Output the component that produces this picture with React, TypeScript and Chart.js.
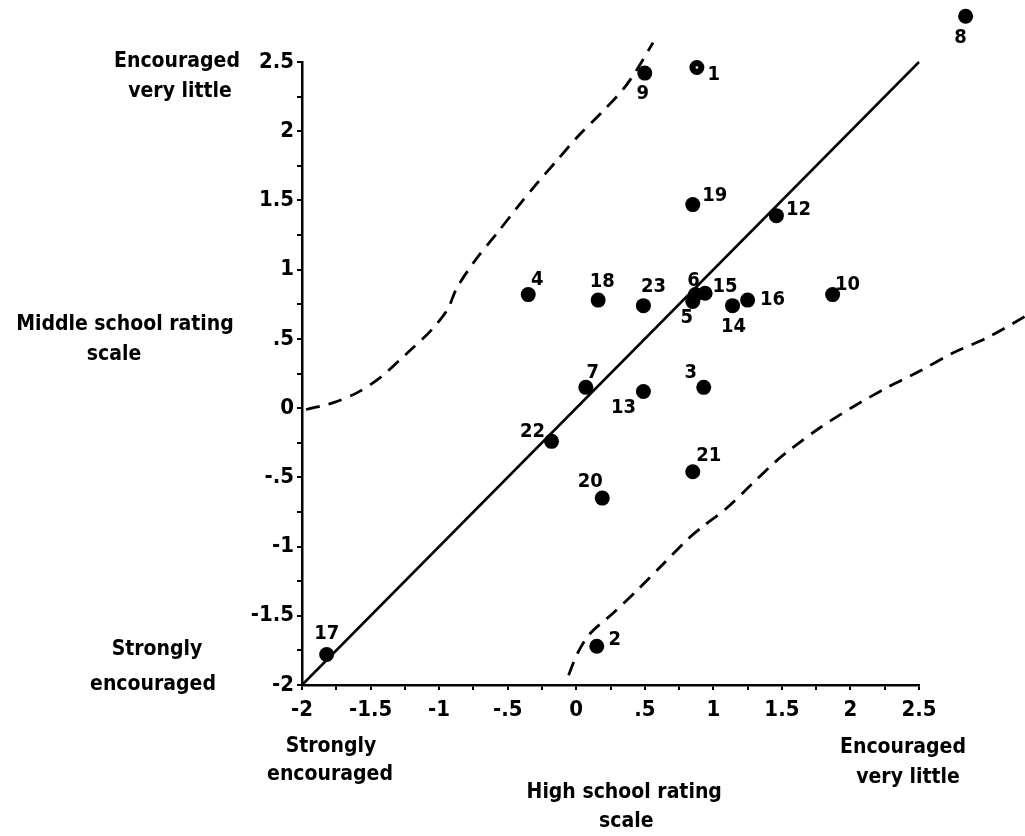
import React, { useEffect, useRef } from "react";
import { Chart, registerables } from "chart.js";

Chart.register(...registerables);

// ---- data ----
const studentIds = ["1", "2", "3", "4", "5", "6", "7", "8", "9", "10", "12", "13", "14", "15", "16", "17", "18", "19", "20", "21", "22", "23"];
const highSchoolRating = [0.88, 0.15, 0.93, -0.35, 0.85, 0.87, 0.07, 2.84, 0.5, 1.87, 1.46, 0.49, 1.14, 0.94, 1.25, -1.82, 0.16, 0.85, 0.19, 0.85, -0.18, 0.49];
const middleSchoolRating = [2.46, -1.72, 0.15, 0.82, 0.77, 0.82, 0.15, 2.83, 2.42, 0.82, 1.39, 0.12, 0.74, 0.83, 0.78, -1.78, 0.78, 1.47, -0.65, -0.46, -0.24, 0.74];

const identityX = [-2, 2.5];
const identityY = [-2, 2.5];

const upperBandX = [-1.97, -1.77, -1.6, -1.43, -1.23, -1.06, -0.94, -0.87, -0.72, -0.58, -0.43, -0.28, -0.14, 0.01, 0.18, 0.34, 0.44, 0.56];
const upperBandY = [-0.01, 0.04, 0.11, 0.22, 0.4, 0.56, 0.71, 0.87, 1.09, 1.26, 1.45, 1.63, 1.79, 1.96, 2.13, 2.3, 2.44, 2.64];

// listed from the right end (outside the axis range) back to the bottom start
const lowerBandX = [3.27, 3.0, 2.75, 2.51, 2.27, 2.02, 1.78, 1.56, 1.45, 1.29, 1.1, 0.93, 0.81, 0.64, 0.44, 0.27, 0.1, 0.01, -0.06];
const lowerBandY = [0.66, 0.51, 0.4, 0.27, 0.15, 0.01, -0.14, -0.3, -0.39, -0.54, -0.72, -0.85, -0.95, -1.12, -1.32, -1.48, -1.63, -1.77, -1.94];

const axisMin = -2;
const axisMax = 2.5;
const minorStep = 0.25;

const yAxisTitle = ["Middle school rating", "scale"];
const xAxisTitle = ["High school rating", "scale"];
const lowEndLabel = ["Strongly", "encouraged"];
const highEndLabel = ["Encouraged", "very little"];

// ---- styles (label offsets in px relative to each point) ----
const labelOffsets: [number, number][] = [
  [17, 7], [18, -6], [-13, -15], [9, -15], [-6, 16], [-2, -14], [7, -15], [-5, 21], [-2, 21], [15, -10],
  [22, -6], [-20, 16], [1, 21], [20, -6], [25, 0], [0, -21], [4, -18], [22, -9], [-12, -16], [16, -16],
  [-19, -10], [10, -19],
];

const FONT = '"DejaVu Sans Condensed", "Liberation Sans Narrow", "DejaVu Sans", sans-serif';

const fmtTick = (v: number) => {
  if (Math.abs(v * 2 - Math.round(v * 2)) > 1e-6) return "";
  if (Math.abs(v) < 1e-9) return "0";
  return String(v).replace(/^(-?)0\./, "$1.");
};

const toPoints = (xs: number[], ys: number[]) => xs.map((x, i) => ({ x, y: ys[i] }));

export default function App() {
  const ref = useRef<HTMLCanvasElement | null>(null);

  useEffect(() => {
    if (!ref.current) return;

    const textPlugin = {
      id: "annotTexts",
      afterDatasetsDraw(chart: any) {
        const ctx = chart.ctx;
        const xs = chart.scales.x;
        const ys = chart.scales.y;
        const area = chart.chartArea;
        const meta = chart.getDatasetMeta(3);
        // points that lie beyond the axis box (Chart.js skips them)
        meta.data.forEach((el: any) => {
          const r = 8;
          if (el.x < area.left - r || el.x > area.right + r || el.y < area.top - r || el.y > area.bottom + r) {
            el.draw(ctx);
          }
        });
        ctx.save();
        ctx.fillStyle = "#000";
        ctx.textAlign = "center";
        ctx.textBaseline = "middle";
        // point labels
        ctx.font = `bold 20px ${FONT}`;
        meta.data.forEach((el: any, i: number) => {
          const [dx, dy] = labelOffsets[i];
          ctx.fillText(studentIds[i], el.x + dx, el.y + dy);
        });
        // axis texts
        ctx.font = `bold 21px ${FONT}`;
        const left = area.left;
        const bottom = area.bottom;
        const yTop = ys.getPixelForValue(axisMax);
        const yMid = ys.getPixelForValue(0.6);
        const yLow = ys.getPixelForValue(axisMin);
        ctx.fillText(highEndLabel[0], left - 125, yTop);
        ctx.fillText(highEndLabel[1], left - 122, yTop + 30);
        ctx.fillText(yAxisTitle[0], left - 177, yMid);
        ctx.fillText(yAxisTitle[1], left - 188, yMid + 30);
        ctx.fillText(lowEndLabel[0], left - 145, yLow - 35);
        ctx.fillText(lowEndLabel[1], left - 149, yLow);
        const xLow = xs.getPixelForValue(axisMin);
        const xMid = xs.getPixelForValue(0.35);
        const xHigh = xs.getPixelForValue(axisMax);
        ctx.fillText(lowEndLabel[0], xLow + 29, bottom + 62);
        ctx.fillText(lowEndLabel[1], xLow + 28, bottom + 90);
        ctx.fillText(xAxisTitle[0], xMid, bottom + 108);
        ctx.fillText(xAxisTitle[1], xMid + 2, bottom + 137);
        ctx.fillText(highEndLabel[0], xHigh - 16, bottom + 63);
        ctx.fillText(highEndLabel[1], xHigh - 11, bottom + 93);
        ctx.restore();
      },
    };

    const chart = new Chart(ref.current, {
      type: "scatter",
      data: {
        datasets: [
          {
            type: "line",
            data: toPoints(identityX, identityY),
            borderColor: "#000",
            borderWidth: 2.5,
            pointRadius: 0,
            clip: false,
          } as any,
          {
            type: "line",
            data: toPoints(upperBandX, upperBandY),
            borderColor: "#000",
            borderWidth: 2.8,
            borderDash: [14, 9],
            tension: 0.3,
            pointRadius: 0,
            clip: false,
          } as any,
          {
            type: "line",
            data: toPoints(lowerBandX, lowerBandY),
            borderColor: "#000",
            borderWidth: 2.8,
            borderDash: [14, 9],
            tension: 0.3,
            pointRadius: 0,
            clip: false,
          } as any,
          {
            data: toPoints(highSchoolRating, middleSchoolRating),
            pointRadius: (c: any) => (c.dataIndex === 0 ? 4.4 : 7.5),
            pointBorderWidth: (c: any) => (c.dataIndex === 0 ? 6.2 : 0),
            pointBackgroundColor: (c: any) => (c.dataIndex === 0 ? "#fff" : "#000"),
            pointBorderColor: "#000",
            clip: false,
          } as any,
        ],
      },
      options: {
        animation: false,
        responsive: false,
        events: [],
        layout: { padding: { left: 202, top: 62, right: 106, bottom: 111 } },
        plugins: { legend: { display: false }, tooltip: { enabled: false } },
        scales: {
          x: {
            type: "linear",
            min: axisMin,
            max: axisMax,
            afterFit: (s: any) => {
              s.height = 40;
            },
            border: { display: true, color: "#000", width: 2.5 },
            grid: { drawOnChartArea: false, drawTicks: true, tickLength: 5, color: "#000", lineWidth: 2 },
            ticks: {
              stepSize: minorStep,
              autoSkip: false,
              maxRotation: 0,
              padding: 7,
              color: "#000",
              font: { family: FONT, size: 22, weight: "bold" },
              callback: (v: any) => fmtTick(Number(v)),
            },
          },
          y: {
            type: "linear",
            min: axisMin,
            max: axisMax,
            afterFit: (s: any) => {
              s.width = 100;
            },
            border: { display: true, color: "#000", width: 2.5 },
            grid: { drawOnChartArea: false, drawTicks: true, tickLength: 5, color: "#000", lineWidth: 2 },
            ticks: {
              stepSize: minorStep,
              autoSkip: false,
              padding: 3,
              color: "#000",
              font: { family: FONT, size: 22, weight: "bold" },
              callback: (v: any) => fmtTick(Number(v)),
            },
          },
        },
      },
      plugins: [textPlugin],
    } as any);

    return () => chart.destroy();
  }, []);

  return (
    <div style={{ position: "fixed", left: 0, top: 0, width: 1025, height: 836, background: "#fff" }}>
      <canvas ref={ref} width={1025} height={836} style={{ width: 1025, height: 836 }} />
    </div>
  );
}
